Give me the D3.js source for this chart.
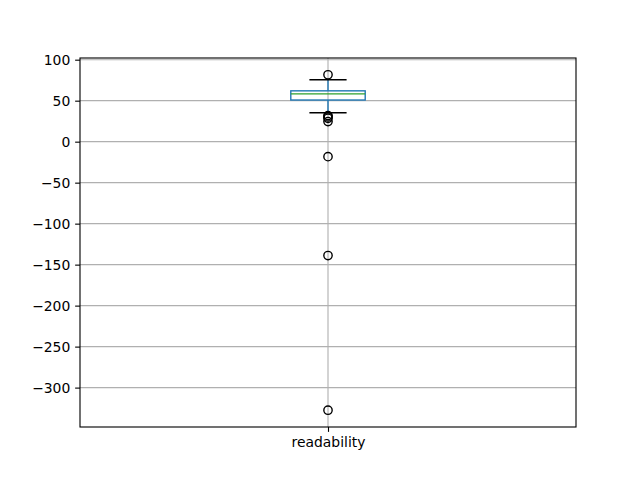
<!DOCTYPE html>
<html><head><meta charset="utf-8">
<script src="https://cdn.jsdelivr.net/npm/d3@7"></script>
<style>body{margin:0;background:#fff}svg{display:block}text{font-family:"DejaVu Sans",sans-serif}</style>
</head><body><svg id="c" width="640" height="480"></svg>
<script>
const categories = ["readability"];
// box stats: [lowerWhisker, q1, median, q3, upperWhisker]
const boxStats = [[35.3, 50.8, 58.3, 62.0, 75.5]];
const outliers = [[81.6, 31.8, 30.2, 28.5, 24.5, -18.3, -138.9, -327.6]];
const yTicks = [100, 50, 0, -50, -100, -150, -200, -250, -300];

const svg = d3.select("#c");
const L = 80, R = 576, T = 58, B = 427;
const allVals = boxStats.flat().concat(outliers.flat());
const mn = d3.min(allVals), mx = d3.max(allVals), pad = (mx - mn) * 0.05;
const y = d3.scaleLinear().domain([mn - pad, mx + pad]).range([B, T]);
const x = d3.scaleLinear().domain([0.5, categories.length + 0.5]).range([L, R]);
const fs = "13.9px";
const lw = 1.39;

// grid
const g = svg.append("g");
yTicks.forEach(t => {
  g.append("line").attr("x1", L).attr("x2", R).attr("y1", y(t)).attr("y2", y(t))
   .attr("stroke", "#b0b0b0").attr("stroke-width", 1.11);
});
categories.forEach((c, i) => {
  g.append("line").attr("x1", x(i + 1)).attr("x2", x(i + 1)).attr("y1", T).attr("y2", B)
   .attr("stroke", "#b0b0b0").attr("stroke-width", 1.11);
});

// boxes
const bw = (x(1.15) - x(1)) ; // full width 0.15
categories.forEach((c, i) => {
  const s = boxStats[i], cx = x(i + 1);
  const half = bw / 2, capHalf = bw / 4;
  // whiskers
  svg.append("line").attr("x1", cx).attr("x2", cx).attr("y1", y(s[1])).attr("y2", y(s[0]))
    .attr("stroke", "#1f77b4").attr("stroke-width", lw);
  svg.append("line").attr("x1", cx).attr("x2", cx).attr("y1", y(s[3])).attr("y2", y(s[4]))
    .attr("stroke", "#1f77b4").attr("stroke-width", lw);
  // caps
  [s[0], s[4]].forEach(v => svg.append("line").attr("x1", cx - capHalf).attr("x2", cx + capHalf)
    .attr("y1", y(v)).attr("y2", y(v)).attr("stroke", "#000").attr("stroke-width", lw));
  // box
  svg.append("rect").attr("x", cx - half).attr("width", bw).attr("y", y(s[3]))
    .attr("height", y(s[1]) - y(s[3])).attr("fill", "none").attr("stroke", "#1f77b4").attr("stroke-width", lw);
  // median
  svg.append("line").attr("x1", cx - half).attr("x2", cx + half).attr("y1", y(s[2])).attr("y2", y(s[2]))
    .attr("stroke", "#2ca02c").attr("stroke-width", lw);
  // fliers
  outliers[i].forEach(v => svg.append("circle").attr("cx", cx).attr("cy", y(v)).attr("r", 4.17)
    .attr("fill", "none").attr("stroke", "#000").attr("stroke-width", lw));
});

// axes
const yAxis = d3.axisLeft(y).tickValues(yTicks).tickSize(4.86).tickPadding(4.86)
  .tickFormat(d => d < 0 ? "\u2212" + Math.abs(d) : d);
const ya = svg.append("g").attr("transform", `translate(${L},0)`).call(yAxis);
ya.select(".domain").remove();
ya.selectAll("line").attr("stroke", "#000").attr("stroke-width", 1.11);
ya.selectAll("text").attr("font-size", fs).attr("fill", "#000").attr("font-family", "DejaVu Sans");

const xAxis = d3.axisBottom(x).tickValues(categories.map((c, i) => i + 1)).tickSize(4.86).tickPadding(4.86)
  .tickFormat((d, i) => categories[i]);
const xa = svg.append("g").attr("transform", `translate(0,${B})`).call(xAxis);
xa.select(".domain").remove();
xa.selectAll("line").attr("stroke", "#000").attr("stroke-width", 1.11);
xa.selectAll("text").attr("font-size", fs).attr("fill", "#000").attr("font-family", "DejaVu Sans");

svg.append("rect").attr("x", L).attr("y", T).attr("width", R - L).attr("height", B - T)
  .attr("fill", "none").attr("stroke", "#000").attr("stroke-width", 1.11);
</script></body></html>
